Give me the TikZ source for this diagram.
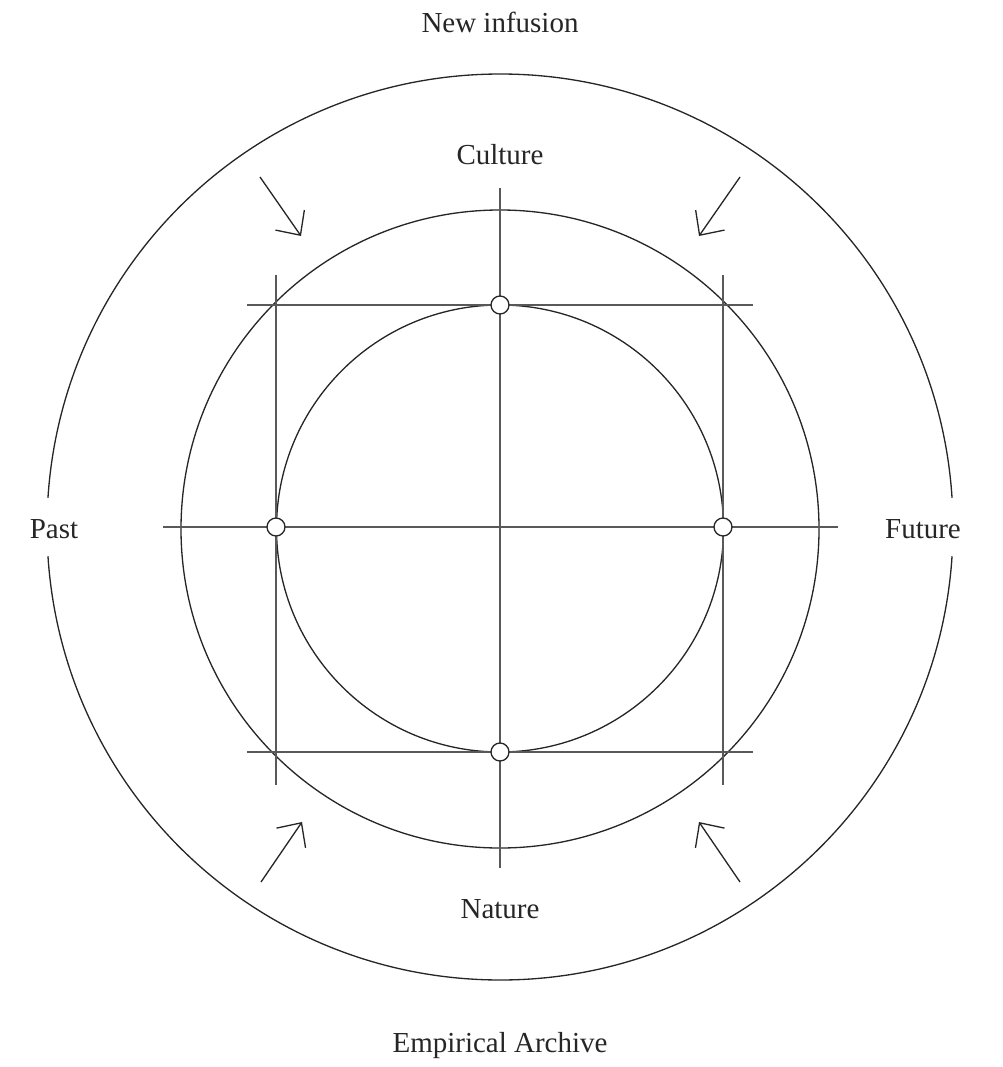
\documentclass[tikz,border=0pt]{standalone}
\usepackage{fontspec}
\setmainfont{Liberation Serif}
\usetikzlibrary{arrows.meta}
\begin{document}
\begin{tikzpicture}[x=0.02cm,y=-0.02cm,
  ln/.style={line width=0.75pt,draw=black!85},
  grid/.style={line width=0.75pt,draw=black!65},
  dot/.style={circle,draw=black!85,line width=0.75pt,fill=white,minimum size=18*0.02cm,inner sep=0pt},
  lbl/.style={font=\fontsize{16.5}{19}\selectfont,text=black!85},
  arr/.style={line width=0.75pt,draw=black!85,-{Straight Barb[length=10.5pt,width=20pt,line width=0.75pt]}}]
\useasboundingbox (0,0) rectangle (1002,1067);
% outer circle with gaps
\draw[ln] (500,527) ++(3.7:453) arc[start angle=3.7,end angle=176.3,radius=453];
\draw[ln] (500,527) ++(-3.7:453) arc[start angle=-3.7,end angle=-176.3,radius=453];
% middle circle
\draw[ln] (500,529) circle[radius=319];
% inner circle
\draw[ln] (500,528.5) circle[radius=223.5];
% crosshair
\coordinate (vt) at (500,188); \coordinate (vb) at (500,868);
\coordinate (hl) at (163,527); \coordinate (hr) at (838,527);
\draw[grid] (vt) -- (vb);
\draw[grid] (hl) -- (hr);
% square lines
\coordinate (t1) at (247,305); \coordinate (t2) at (753,305);
\coordinate (b1) at (247,752); \coordinate (b2) at (753,752);
\coordinate (l1) at (276,275); \coordinate (l2) at (276,785);
\coordinate (r1) at (723,275); \coordinate (r2) at (723,785);
\draw[grid] (t1) -- (t2);
\draw[grid] (b1) -- (b2);
\draw[grid] (l1) -- (l2);
\draw[grid] (r1) -- (r2);
% dots
\node[dot] (dt) at (500,305) {};
\node[dot] (dl) at (276,527) {};
\node[dot] (dr) at (723,527) {};
\node[dot] (db) at (500,752) {};
% arrows
\coordinate (a1s) at (260,177); \coordinate (a1e) at (301,236);
\coordinate (a2s) at (740,177); \coordinate (a2e) at (699,236);
\coordinate (a3s) at (261,882); \coordinate (a3e) at (302,822);
\coordinate (a4s) at (740,882); \coordinate (a4e) at (699,822);
\draw[arr] (a1s) -- (a1e);
\draw[arr] (a2s) -- (a2e);
\draw[arr] (a3s) -- (a3e);
\draw[arr] (a4s) -- (a4e);
% labels
\node[lbl] (newinf) at (500,22) {New infusion};
\node[lbl] (culture) at (500,155) {Culture};
\node[lbl] (past) at (54,529) {Past};
\node[lbl] (future) at (923,529) {Future};
\node[lbl] (nature) at (500,909) {Nature};
\node[lbl] (archive) at (500,1046) {Empirical Archive};
\end{tikzpicture}
\end{document}
